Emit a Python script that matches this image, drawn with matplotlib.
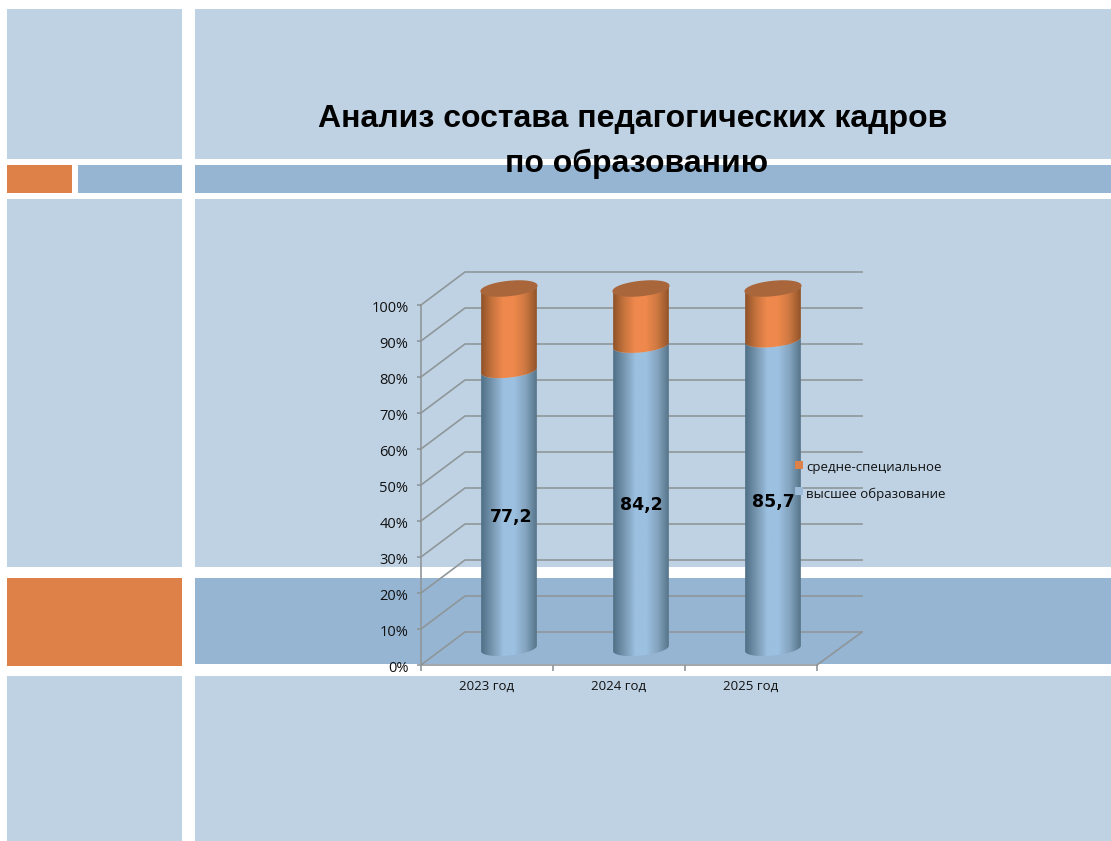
import matplotlib
matplotlib.use('Agg')
import matplotlib.pyplot as plt
import numpy as np
from matplotlib.colors import LinearSegmentedColormap
from matplotlib.patches import Polygon, Rectangle
from matplotlib.transforms import ScaledTranslation

years = ['2023 год', '2024 год', '2025 год']
higher = [77.2, 84.2, 85.7]
special = [22.8, 15.8, 14.3]
labels = ['77,2', '84,2', '85,7']
y_ticks = [0, 10, 20, 30, 40, 50, 60, 70, 80, 90, 100]
legend_names = ['средне-специальное', 'высшее образование']

W, H = 1111, 841
LIGHT = '#bfd2e4'
MID = '#95b5d3'
ORANGE = '#de8149'
GRID = '#8f9699'

plt.rcParams['font.family'] = ['Open Sans', 'DejaVu Sans']

fig = plt.figure(figsize=(W / 100, H / 100), dpi=100, facecolor='white')

# slide background, in pixels from the top left
bg = fig.add_axes([0, 0, 1, 1])
bg.set_xlim(0, W)
bg.set_ylim(H, 0)
bg.axis('off')
blocks = [
    (7, 9, 175, 150, LIGHT), (195, 9, 916, 150, LIGHT),
    (7, 165, 65, 28, ORANGE), (78, 165, 104, 28, MID), (195, 165, 916, 28, MID),
    (7, 199, 175, 368, LIGHT), (195, 199, 916, 368, LIGHT),
    (7, 578, 175, 88, ORANGE), (195, 578, 916, 86, MID),
    (7, 676, 175, 165, LIGHT), (195, 676, 916, 165, LIGHT),
]
for x, y, w, h, c in blocks:
    bg.add_patch(Rectangle((x, y), w, h, facecolor=c, edgecolor='none'))

bg.text(633, 118.5, 'Анализ состава педагогических кадров', ha='center', va='center',
        fontsize=23, fontweight='bold', color='black', family=['Liberation Sans'])
bg.text(637, 163.5, 'по образованию', ha='center', va='center',
        fontsize=23, fontweight='bold', color='black', family=['Liberation Sans'])

# chart axes: front plane of the 3d box
left, right, bottom, top = 421, 817, 665, 305
ax = fig.add_axes([left / W, 1 - bottom / H, (right - left) / W, (bottom - top) / H])
ax.patch.set_alpha(0)
ax.set_xlim(0, 3)
ax.set_ylim(0, 100)
px = (right - left) / 3
py = (bottom - top) / 100
depth_x = 44 / px
depth_y = 33 / py

# side wall, back wall and floor lines
for v in y_ticks:
    ax.plot([0, depth_x, 3 + 45 / px], [v, v + depth_y, v + depth_y], color=GRID, lw=1.2,
            clip_on=False, zorder=1, solid_joinstyle='miter')
ax.plot([3, 3 + 45 / px], [0, depth_y], color=GRID, lw=1.2, clip_on=False, zorder=1)

for s in ['top', 'right']:
    ax.spines[s].set_visible(False)
for s in ['left', 'bottom']:
    ax.spines[s].set_color(GRID)
    ax.spines[s].set_linewidth(1.2)

ax.set_yticks(y_ticks)
ax.set_yticklabels([f'{v}%' for v in y_ticks], fontsize=10.5, color='#111111')
ax.tick_params(axis='y', color=GRID, length=3, width=1.2, pad=6)
# percent labels sit a little below their ticks
nudge = ScaledTranslation(0, -1.5 / 100, fig.dpi_scale_trans)
for lab in ax.get_yticklabels():
    lab.set_transform(lab.get_transform() + nudge)
ax.set_xticks([0, 1, 2, 3])
ax.set_xticklabels([])
ax.tick_params(axis='x', color=GRID, length=4, width=1.2)
ax.set_xticks([0.5, 1.5, 2.5], minor=True)
ax.set_xticklabels(years, minor=True, fontsize=9.5, color='#111111')
ax.tick_params(axis='x', which='minor', length=0, pad=11)

blue_cm = LinearSegmentedColormap.from_list('b', ['#4f6f86', '#7796b0', '#9cc0e0', '#9cc0e0', '#84a4c0', '#567589'])
orange_cm = LinearSegmentedColormap.from_list('o', ['#8f5228', '#c8743e', '#f0894d', '#ee884c', '#cc7841', '#915329'])
grad = np.linspace(0, 1, 128).reshape(1, -1)

half_w, tilt = 28 / px, np.radians(6)


def ellipse(cx, cy, t):
    # flat ring seen from above, tilted a little, sizes in pixels
    ex = 28 * np.cos(t)
    ey = 7 * np.sin(t)
    rx = ex * np.cos(tilt) - ey * np.sin(tilt)
    ry = ex * np.sin(tilt) + ey * np.cos(tilt)
    return cx + rx / px, cy + ry / py


def cylinder(cx, v0, v1, cmap):
    c0 = v0 + depth_y / 2
    c1 = v1 + depth_y / 2
    t = np.linspace(np.pi, 2 * np.pi, 60)
    xb, yb = ellipse(cx, c0, t)
    xt, yt = ellipse(cx, c1, t[::-1])
    pts = np.column_stack([np.r_[xb, xt], np.r_[yb, yt]])
    im = ax.imshow(grad, cmap=cmap, aspect='auto', zorder=3,
                   extent=[cx - half_w, cx + half_w, c0 - 8, c1 + 8])
    # the cylinders stick out above the axes box
    im.set_clip_box(fig.bbox)
    im.set_clip_path(Polygon(pts, closed=True, transform=ax.transData))


for i in range(len(years)):
    cx = i + 0.5 + depth_x / 2
    cylinder(cx, 0, higher[i], blue_cm)
    cylinder(cx, higher[i], higher[i] + special[i], orange_cm)
    t = np.linspace(0, 2 * np.pi, 80)
    xe, ye = ellipse(cx, higher[i] + special[i] + depth_y / 2, t)
    ax.fill(xe, ye, color='#a8663a', zorder=4, clip_on=False)
    ax.text(cx + (2 if i == 0 else 0) / px, higher[i] / 2 + depth_y / 2 - 2.2, labels[i],
            ha='center', va='center', fontsize=12.5, fontweight='bold', color='black',
            zorder=6, family=['DejaVu Sans'])

# imshow resets limits
ax.set_xlim(0, 3)
ax.set_ylim(0, 100)

# legend
bg.set_zorder(0)
ax.set_zorder(1)
leg = fig.add_axes([0, 0, 1, 1])
leg.set_xlim(0, W)
leg.set_ylim(H, 0)
leg.axis('off')
leg.set_zorder(2)
leg.add_patch(Rectangle((795, 461), 8, 8, facecolor=ORANGE, edgecolor='none'))
leg.add_patch(Rectangle((795, 487), 8, 8, facecolor='#9cbbd8', edgecolor='none'))
leg.text(806, 467.5, legend_names[0], fontsize=9.5, va='center', color='#111111')
leg.text(806, 494, legend_names[1], fontsize=9.5, va='center', color='#111111')

fig.savefig('out.png', dpi=100)
